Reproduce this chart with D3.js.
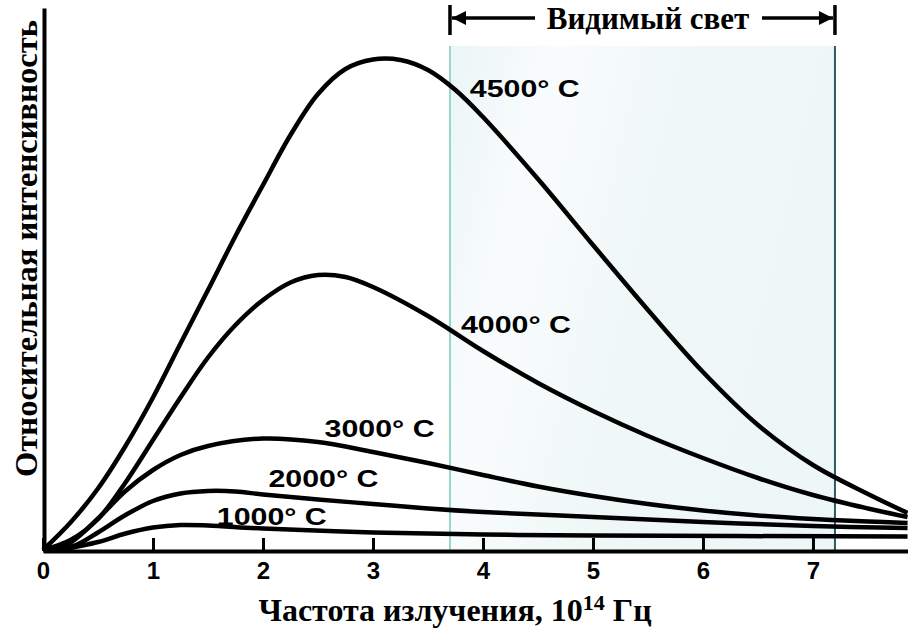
<!DOCTYPE html>
<html>
<head>
<meta charset="utf-8">
<script src="https://cdn.jsdelivr.net/npm/d3@7"></script>
<style>
  html, body { margin: 0; padding: 0; background: #fff; }
  svg { display: block; }
</style>
</head>
<body>
<div id="chart"></div>
<script>
// frequency ticks (10^14 Hz)
const freqTicks = [0, 1, 2, 3, 4, 5, 6, 7];

// visible light band, 10^14 Hz
const visibleBand = [3.7, 7.2];

// curves: [frequency, relative intensity]
const curve4500 = [[0,0],[0.25,5.5],[0.5,12.3],[0.75,20.8],[1,30.5],[1.25,41.3],[1.5,52],[1.75,62.8],[2,73],[2.25,83],[2.5,91.2],[2.75,96.2],[3,98.1],[3.25,98],[3.5,96],[3.75,92],[4,86.6],[4.5,74.2],[5,61],[5.5,48],[6,35.6],[6.5,25],[7,17],[7.5,11.2],[7.86,7.4]];
const curve4000 = [[0,0],[0.25,2],[0.5,6.2],[0.75,13.5],[1,22],[1.25,30.5],[1.5,38.5],[1.75,45],[2,50],[2.25,53.5],[2.5,55],[2.75,54.6],[3,52.6],[3.5,46.8],[4,39.8],[4.5,33.4],[5,27.8],[5.5,22.8],[6,18.4],[6.5,14.4],[7,11],[7.5,8.3],[7.86,6.6]];
const curve3000 = [[0.05,0],[0.25,1.5],[0.5,6.3],[0.75,11.8],[1,16],[1.25,19],[1.5,20.8],[2,22.3],[2.5,21.6],[3,19.6],[3.5,17.4],[4,15],[4.5,12.7],[5,10.8],[5.5,9.2],[6,7.9],[6.5,6.9],[7,6.2],[7.5,5.7],[7.86,5.4]];
const curve2000 = [[0.1,0],[0.3,1],[0.5,3.5],[0.75,7],[1,9.8],[1.25,11.3],[1.5,11.8],[1.75,11.7],[2,11.1],[2.5,10.1],[3,9.2],[3.5,8.3],[4,7.6],[5,6.6],[6,5.6],[7,4.8],[7.86,4.4]];
const curve1000 = [[0.15,0],[0.5,1.6],[0.75,3.3],[1,4.5],[1.25,5],[1.5,4.9],[2,4.3],[3,3.5],[4,3.1],[5,2.9],[7.86,2.7]];

const tempLabels = ["4500° C", "4000° C", "3000° C", "2000° C", "1000° C"];

const width = 908;
const height = 632;

const x = d3.scaleLinear().domain([0, 7.864]).range([43, 908]);
const y = d3.scaleLinear().domain([0, 108.4]).range([550, 8]);

const svg = d3.select("#chart").append("svg")
    .attr("width", width)
    .attr("height", height)
    .attr("viewBox", [0, 0, width, height]);

// visible light band background
const defs = svg.append("defs");
const grad = defs.append("linearGradient").attr("id", "band").attr("x1", 0).attr("x2", 1).attr("y1", 0).attr("y2", 0.3);
grad.append("stop").attr("offset", "0%").attr("stop-color", "#ebf5f7");
grad.append("stop").attr("offset", "25%").attr("stop-color", "#f9fcfc");
grad.append("stop").attr("offset", "60%").attr("stop-color", "#eff7f7");
grad.append("stop").attr("offset", "100%").attr("stop-color", "#eef7f7");

svg.append("rect")
    .attr("x", x(visibleBand[0]))
    .attr("y", 46)
    .attr("width", x(visibleBand[1]) - x(visibleBand[0]))
    .attr("height", 550 - 46)
    .attr("fill", "url(#band)");

svg.append("line")
    .attr("x1", x(visibleBand[0])).attr("x2", x(visibleBand[0]))
    .attr("y1", 46).attr("y2", 550)
    .attr("stroke", "#98d6c9").attr("stroke-width", 2);
svg.append("line")
    .attr("x1", x(visibleBand[1])).attr("x2", x(visibleBand[1]))
    .attr("y1", 46).attr("y2", 550)
    .attr("stroke", "#2b5d61").attr("stroke-width", 2);

// header "visible light" with arrows
defs.append("marker")
    .attr("id", "arrow")
    .attr("viewBox", "0 0 10 10")
    .attr("refX", 10).attr("refY", 5)
    .attr("markerWidth", 5.5).attr("markerHeight", 4)
    .attr("markerUnits", "strokeWidth")
    .attr("orient", "auto")
  .append("path")
    .attr("d", "M0,0L10,5L0,10z")
    .attr("fill", "#000");

const hdr = svg.append("g").attr("stroke", "#000").attr("stroke-width", 3.5);
hdr.append("line").attr("x1", x(visibleBand[0])).attr("x2", x(visibleBand[0])).attr("y1", 5).attr("y2", 35);
hdr.append("line").attr("x1", x(visibleBand[1])).attr("x2", x(visibleBand[1])).attr("y1", 5).attr("y2", 35);
hdr.append("line").attr("x1", 535).attr("x2", x(visibleBand[0]) + 2).attr("y1", 18).attr("y2", 18).attr("marker-end", "url(#arrow)");
hdr.append("line").attr("x1", 762).attr("x2", x(visibleBand[1]) - 2).attr("y1", 18).attr("y2", 18).attr("marker-end", "url(#arrow)");

svg.append("text")
    .attr("x", 648).attr("y", 29)
    .attr("text-anchor", "middle")
    .attr("font-family", "'Liberation Serif', 'DejaVu Serif', serif")
    .attr("font-weight", "bold")
    .attr("font-size", 31)
    .text("Видимый свет");

// curves
const line = d3.line()
    .x(d => x(d[0]))
    .y(d => y(d[1]))
    .curve(d3.curveCatmullRom.alpha(0.5));

const curves = [curve4500, curve4000, curve3000, curve2000, curve1000];
svg.append("g")
  .selectAll("path")
  .data(curves)
  .join("path")
    .attr("d", line)
    .attr("fill", "none")
    .attr("stroke", "#000")
    .attr("stroke-width", 4.5)
    .attr("stroke-linejoin", "round");

// temperature labels
const labelPos = [[3.88, 90.6], [3.8, 43.4], [2.56, 22.6], [2.05, 12.6], [1.58, 5]];
svg.append("g")
    .attr("font-family", "'Liberation Sans', Arial, sans-serif")
    .attr("font-weight", "bold")
    .attr("font-size", 23)
  .selectAll("text")
  .data(tempLabels)
  .join("text")
    .attr("x", (d, i) => x(labelPos[i][0]))
    .attr("y", (d, i) => y(labelPos[i][1]))
    .attr("textLength", 110)
    .attr("lengthAdjust", "spacingAndGlyphs")
    .text(d => d);

// axes
const xAxis = d3.axisBottom(x)
    .tickValues(freqTicks)
    .tickSizeInner(-13)
    .tickSizeOuter(0)
    .tickPadding(11)
    .tickFormat(d3.format("d"));

const gx = svg.append("g")
    .attr("transform", "translate(0,551)")
    .call(xAxis);
gx.select(".domain").attr("stroke-width", 4);
gx.selectAll(".tick line").attr("stroke-width", 3);
gx.selectAll(".tick text")
    .attr("font-family", "'Liberation Sans', Arial, sans-serif")
    .attr("font-weight", "bold")
    .attr("font-size", 24)
    .attr("fill", "#000");

const yAxis = d3.axisLeft(y).tickValues([]).tickSizeOuter(0);
const gy = svg.append("g")
    .attr("transform", "translate(44,0)")
    .call(yAxis);
gy.select(".domain").attr("stroke-width", 4);

// axis titles
svg.append("text")
    .attr("transform", `translate(37,${(20 + 477) / 2}) rotate(-90)`)
    .attr("text-anchor", "middle")
    .attr("font-family", "'Liberation Serif', 'DejaVu Serif', serif")
    .attr("font-weight", "bold")
    .attr("font-size", 32)
    .attr("textLength", 457)
    .attr("lengthAdjust", "spacingAndGlyphs")
    .text("Относительная интенсивность");

const xt = svg.append("text")
    .attr("x", 455).attr("y", 621)
    .attr("text-anchor", "middle")
    .attr("font-family", "'Liberation Serif', 'DejaVu Serif', serif")
    .attr("font-weight", "bold")
    .attr("font-size", 32);
xt.append("tspan").text("Частота излучения, 10");
xt.append("tspan").attr("dy", -11).attr("font-size", 22).text("14");
xt.append("tspan").attr("dy", 11).text(" Гц");
</script>
</body>
</html>
